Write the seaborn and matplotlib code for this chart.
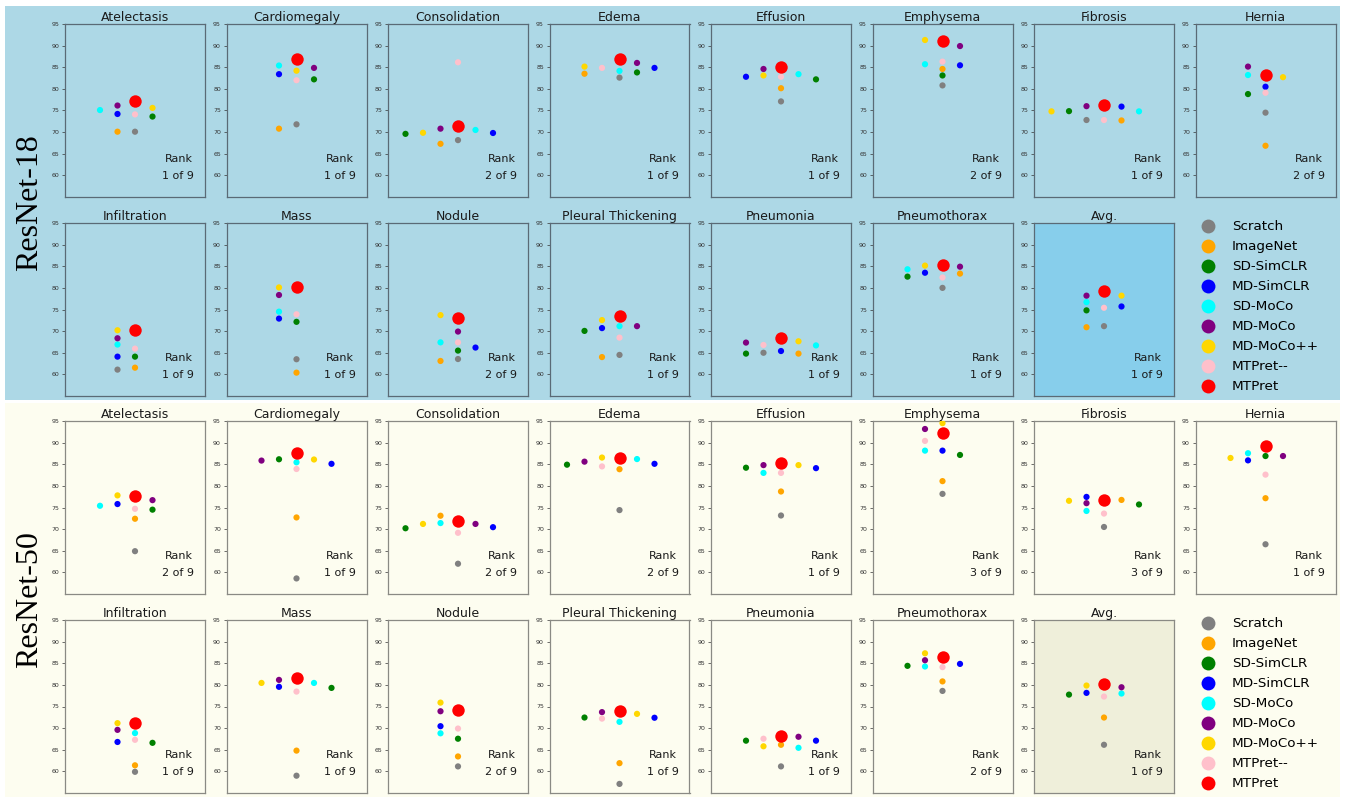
import numpy as np
import pandas as pd
import matplotlib
matplotlib.use("Agg")
import matplotlib.pyplot as plt
from matplotlib.patches import Rectangle
from matplotlib.lines import Line2D
import seaborn as sns

# ---------------------------------------------------------------- data
diseases = ["Atelectasis", "Cardiomegaly", "Consolidation", "Edema", "Effusion",
            "Emphysema", "Fibrosis", "Hernia", "Infiltration", "Mass", "Nodule",
            "Pleural Thickening", "Pneumonia", "Pneumothorax", "Avg."]

methods = ["Scratch", "ImageNet", "SD-SimCLR", "MD-SimCLR", "SD-MoCo",
           "MD-MoCo", "MD-MoCo++", "MTPret--", "MTPret"]

method_colors = ["gray", "orange", "green", "blue", "cyan",
                 "purple", "gold", "pink", "red"]

# ResNet-18 AUC (%) per method, one value per disease (same order as `diseases`)
r18_scratch = [70.1, 71.8, 68.15, 82.6, 77.1, 80.8, 72.8, 74.5, 61.1, 63.5, 63.55, 64.5, 65.0, 80.0, 71.15]
r18_imagenet = [70.1, 70.8, 67.3, 83.5, 80.15, 84.6, 72.7, 66.85, 61.55, 60.4, 63.1, 64.0, 64.8, 83.3, 70.9]
r18_sd_simclr = [73.6, 82.2, 69.6, 83.8, 82.2, 83.1, 74.85, 78.8, 64.1, 72.15, 65.5, 70.05, 64.8, 82.6, 74.8]
r18_md_simclr = [74.2, 83.4, 69.8, 84.85, 82.8, 85.45, 75.9, 80.5, 64.1, 72.9, 66.2, 70.7, 65.4, 83.5, 75.7]
r18_sd_moco = [75.1, 85.4, 70.5, 84.15, 83.4, 85.7, 74.8, 83.2, 66.9, 74.5, 67.4, 71.15, 66.7, 84.3, 76.7]
r18_md_moco = [76.15, 84.85, 70.8, 86.0, 84.6, 89.9, 76.0, 85.15, 68.35, 78.35, 69.9, 71.15, 67.35, 84.9, 78.2]
r18_md_mocopp = [75.6, 84.2, 69.85, 85.15, 83.1, 91.3, 74.8, 82.7, 70.2, 80.1, 73.7, 72.55, 67.65, 85.15, 78.2]
r18_mtpret_minus = [74.1, 82.0, 86.15, 84.85, 82.8, 86.3, 72.8, 79.1, 65.95, 73.9, 67.4, 68.5, 66.8, 82.4, 75.4]
r18_mtpret = [77.1, 86.8, 71.5, 86.8, 85.1, 91.1, 76.3, 83.3, 70.3, 80.3, 73.1, 73.6, 68.5, 85.4, 79.3]

# ResNet-50 AUC (%)
r50_scratch = [64.9, 58.6, 62.0, 74.4, 73.15, 78.15, 70.5, 66.5, 59.9, 59.0, 61.15, 57.1, 61.15, 78.6, 66.15]
r50_imagenet = [72.4, 72.7, 73.1, 83.85, 78.7, 81.1, 76.75, 77.15, 61.4, 64.8, 63.45, 61.9, 66.15, 80.8, 72.45]
r50_sd_simclr = [74.5, 86.15, 70.2, 84.9, 84.2, 87.15, 75.7, 86.9, 66.6, 79.3, 67.55, 72.45, 67.1, 84.4, 77.75]
r50_md_simclr = [75.8, 85.1, 70.45, 85.1, 84.1, 88.15, 77.45, 85.9, 66.8, 79.55, 70.45, 72.4, 67.1, 84.85, 78.15]
r50_sd_moco = [75.4, 85.45, 71.4, 86.2, 83.0, 88.15, 74.2, 87.55, 68.85, 80.45, 68.8, 71.45, 65.45, 84.25, 78.0]
r50_md_moco = [76.7, 85.85, 71.2, 85.6, 84.8, 93.15, 76.0, 86.9, 69.6, 81.15, 73.9, 73.7, 68.0, 85.7, 79.45]
r50_md_mocopp = [77.8, 86.1, 71.2, 86.55, 84.8, 94.5, 76.55, 86.45, 71.15, 80.45, 75.9, 73.3, 65.8, 87.3, 79.85]
r50_mtpret_minus = [74.7, 83.9, 69.15, 84.5, 83.0, 90.4, 73.6, 82.6, 67.3, 78.45, 69.9, 72.2, 67.55, 84.1, 77.3]
r50_mtpret = [77.7, 87.7, 71.85, 86.4, 85.2, 92.3, 76.65, 89.2, 71.3, 81.6, 74.1, 73.9, 68.2, 86.45, 80.15]

backbones = ["ResNet-18", "ResNet-50"]
y_ticks = [60, 65, 70, 75, 80, 85, 90, 95]

series = {
    "ResNet-18": [r18_scratch, r18_imagenet, r18_sd_simclr, r18_md_simclr, r18_sd_moco,
                  r18_md_moco, r18_md_mocopp, r18_mtpret_minus, r18_mtpret],
    "ResNet-50": [r50_scratch, r50_imagenet, r50_sd_simclr, r50_md_simclr, r50_sd_moco,
                  r50_md_moco, r50_md_mocopp, r50_mtpret_minus, r50_mtpret],
}

# ---------------------------------------------------------------- helpers
def dodge_columns(values, anchors, gap=1.4, gap_lead=2.0):
    """Spread points into integer columns so close values do not overlap.
    Anchored methods (the highlighted ones) are placed first, nearest to the
    centre column; the rest follow from the highest value downwards, each in
    the free column closest to the centre."""
    n = len(values)
    cols = [0] * n
    lead = anchors[0]
    placed = []
    rest = sorted([i for i in range(n) if i not in anchors], key=lambda i: -values[i])
    candidates = [0]
    for k in range(1, 6):
        candidates += [-k, k]
    for i in list(anchors) + rest:
        for c in candidates:
            ok = True
            for j, pc in placed:
                thr = gap_lead if lead in (i, j) else gap
                if pc == c and abs(values[j] - values[i]) < thr:
                    ok = False
                    break
            if ok:
                cols[i] = c
                break
        placed.append((i, cols[i]))
    return cols


W, H = 1347, 797
fig = plt.figure(figsize=(W / 100, H / 100), dpi=100)
fig.patch.set_facecolor("white")

section_bg = {"ResNet-18": "#ADD8E6", "ResNet-50": "#FDFDF0"}
avg_bg = {"ResNet-18": "#87CEEB", "ResNet-50": "#EFEFDA"}
spine_col = {"ResNet-18": "#5a6a76", "ResNet-50": "#8a8a84"}
section_box = {"ResNet-18": (5, 6, 1340, 400), "ResNet-50": (5, 403, 1340, 797)}
row_tops = {"ResNet-18": [24, 223], "ResNet-50": [421, 620]}
label_y = {"ResNet-18": 203, "ResNet-50": 600}

AX_W, AX_H = 140, 173
COL_LEFT0, COL_PITCH = 65, 161.5

palette = dict(zip(methods, method_colors))
lead_idx = methods.index("MTPret")
anchor_idx = [lead_idx, methods.index("MTPret--")]


def px_axes(left, top, w, h):
    return fig.add_axes([left / W, 1 - (top + h) / H, w / W, h / H])


for bb in backbones:
    x0, y0, x1, y1 = section_box[bb]
    fig.patches.append(Rectangle((x0 / W, 1 - y1 / H), (x1 - x0) / W, (y1 - y0) / H,
                                 transform=fig.transFigure, facecolor=section_bg[bb],
                                 edgecolor="none", zorder=-10))
    fig.text(30 / W, 1 - label_y[bb] / H, bb, rotation=90, ha="center", va="center",
             fontsize=23, family="Liberation Serif", color="black")

    vals = np.array(series[bb])  # methods x diseases
    for d, disease in enumerate(diseases):
        r, c = divmod(d, 8)
        ax = px_axes(COL_LEFT0 + COL_PITCH * c, row_tops[bb][r], AX_W, AX_H)
        ax.set_facecolor(avg_bg[bb] if disease == "Avg." else section_bg[bb])

        v = vals[:, d]
        cols = dodge_columns(list(v), anchor_idx)
        df = pd.DataFrame({"method": methods, "auc": v, "col": cols})

        sns.scatterplot(data=df[df.method != "MTPret"], x="col", y="auc", hue="method",
                        palette=palette, s=20, linewidth=0, legend=False, ax=ax, zorder=3)
        sns.scatterplot(data=df[df.method == "MTPret"], x="col", y="auc", hue="method",
                        palette=palette, s=80, linewidth=0, legend=False, ax=ax, zorder=4)

        ax.set_xlim(-4, 4)
        ax.set_ylim(55, 95)
        ax.set_xticks([])
        ax.set_yticks(y_ticks)
        ax.set_xlabel("")
        ax.set_ylabel("")
        ax.tick_params(axis="y", labelsize=4.5, length=2.5, width=0.5, pad=1.5,
                       colors="#333333")
        for s in ax.spines.values():
            s.set_color(spine_col[bb])
            s.set_linewidth(0.9)
        ax.set_title(disease, fontsize=9, pad=2.5, color="#1a1a1a")

        rank = 1 + int(np.sum(v > v[lead_idx]))
        ax.text(0.81, 0.17, f"Rank\n{rank} of {len(methods)}", transform=ax.transAxes,
                ha="center", va="center", fontsize=8, linespacing=1.9,
                color="#1a1a1a", zorder=5)

    # legend in the last cell of the second row
    lax = px_axes(COL_LEFT0 + COL_PITCH * 7, row_tops[bb][1], AX_W, AX_H)
    lax.axis("off")
    handles = [Line2D([], [], marker="o", linestyle="", markersize=10,
                      markerfacecolor=col, markeredgewidth=0, label=m)
               for m, col in zip(methods, method_colors)]
    lax.legend(handles=handles, loc="center left", bbox_to_anchor=(0.04, 0.515),
               frameon=False, fontsize=9.7, handlelength=1.0, handletextpad=1.3,
               labelspacing=0.52, borderpad=0, borderaxespad=0)

fig.savefig("out.png", dpi=100, facecolor=fig.get_facecolor())
